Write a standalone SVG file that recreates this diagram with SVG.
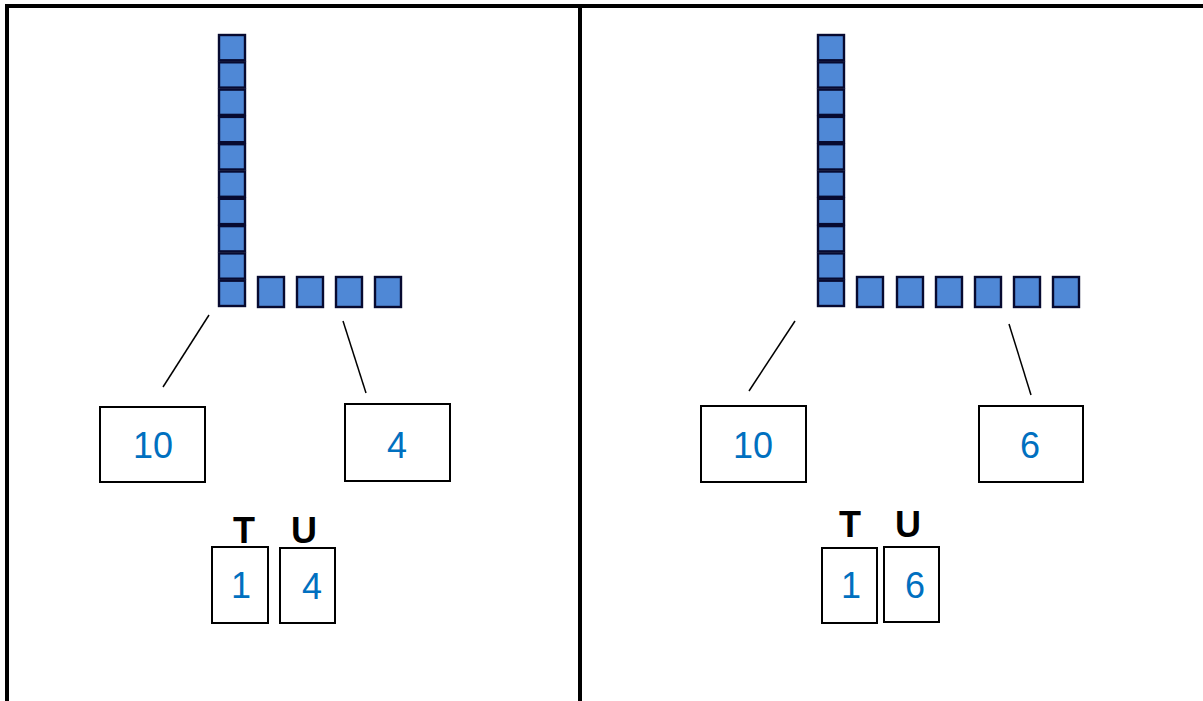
<svg xmlns="http://www.w3.org/2000/svg" width="1203" height="701" viewBox="0 0 1203 701">
<style>
.frame{stroke:#000;stroke-width:4;fill:none}
.cube{fill:#4f88d6;stroke:#070a30;stroke-width:2.4}
.box{fill:#fff;stroke:#000;stroke-width:2}
.num{font-family:"Liberation Sans",Arial,sans-serif;font-size:36px;fill:#0070c0;text-anchor:middle}
.lab{font-family:"Liberation Sans",Arial,sans-serif;font-size:36px;font-weight:bold;fill:#000;text-anchor:middle}
.conn{stroke:#000;stroke-width:1.5;fill:none}
</style>
<defs>
<rect id="vc" class="cube" x="0" y="0" width="26" height="25.3"/>
<rect id="hc" class="cube" x="0" y="0" width="26" height="30"/>
</defs>
<rect width="1203" height="701" fill="#fff"/>
<g id="frame">
<path class="frame" d="M7 701 V6 H1203"/>
<path class="frame" d="M580 6 V701"/>
</g>
<g id="left-blocks">
<use href="#vc" x="219" y="35"/><use href="#vc" x="219" y="62.3"/><use href="#vc" x="219" y="89.6"/><use href="#vc" x="219" y="116.9"/><use href="#vc" x="219" y="144.2"/><use href="#vc" x="219" y="171.5"/><use href="#vc" x="219" y="198.8"/><use href="#vc" x="219" y="226.1"/><use href="#vc" x="219" y="253.4"/><use href="#vc" x="219" y="280.7"/>
<use href="#hc" x="258" y="277"/><use href="#hc" x="297" y="277"/><use href="#hc" x="336" y="277"/><use href="#hc" x="375" y="277"/>
</g>
<g id="right-blocks">
<use href="#vc" x="818" y="35"/><use href="#vc" x="818" y="62.3"/><use href="#vc" x="818" y="89.6"/><use href="#vc" x="818" y="116.9"/><use href="#vc" x="818" y="144.2"/><use href="#vc" x="818" y="171.5"/><use href="#vc" x="818" y="198.8"/><use href="#vc" x="818" y="226.1"/><use href="#vc" x="818" y="253.4"/><use href="#vc" x="818" y="280.7"/>
<use href="#hc" x="857" y="277"/><use href="#hc" x="897" y="277"/><use href="#hc" x="936" y="277"/><use href="#hc" x="975" y="277"/><use href="#hc" x="1014" y="277"/><use href="#hc" x="1053" y="277"/>
</g>
<g id="connectors">
<line class="conn" x1="209" y1="315" x2="163" y2="387"/>
<line class="conn" x1="343" y1="321" x2="366" y2="393"/>
<line class="conn" x1="795" y1="321" x2="749" y2="391"/>
<line class="conn" x1="1009" y1="324" x2="1031" y2="395"/>
</g>
<g id="left-tens"><rect class="box" x="100" y="407" width="105" height="75"/><text class="num" x="153" y="458">10</text></g>
<g id="left-ones"><rect class="box" x="345" y="404" width="105" height="77"/><text class="num" x="397" y="458">4</text></g>
<g id="left-T"><text class="lab" x="244" y="543">T</text><rect class="box" x="212" y="547" width="56" height="76"/><text class="num" x="241" y="598">1</text></g>
<g id="left-U"><text class="lab" x="304" y="543">U</text><rect class="box" x="280" y="548" width="55" height="75"/><text class="num" x="312" y="599">4</text></g>
<g id="right-tens"><rect class="box" x="701" y="406" width="105" height="76"/><text class="num" x="753" y="458">10</text></g>
<g id="right-ones"><rect class="box" x="979" y="406" width="104" height="76"/><text class="num" x="1030" y="458">6</text></g>
<g id="right-T"><text class="lab" x="850" y="537">T</text><rect class="box" x="822" y="548" width="55" height="75"/><text class="num" x="851" y="598">1</text></g>
<g id="right-U"><text class="lab" x="908" y="537">U</text><rect class="box" x="884" y="547" width="55" height="75"/><text class="num" x="915" y="598">6</text></g>
</svg>
